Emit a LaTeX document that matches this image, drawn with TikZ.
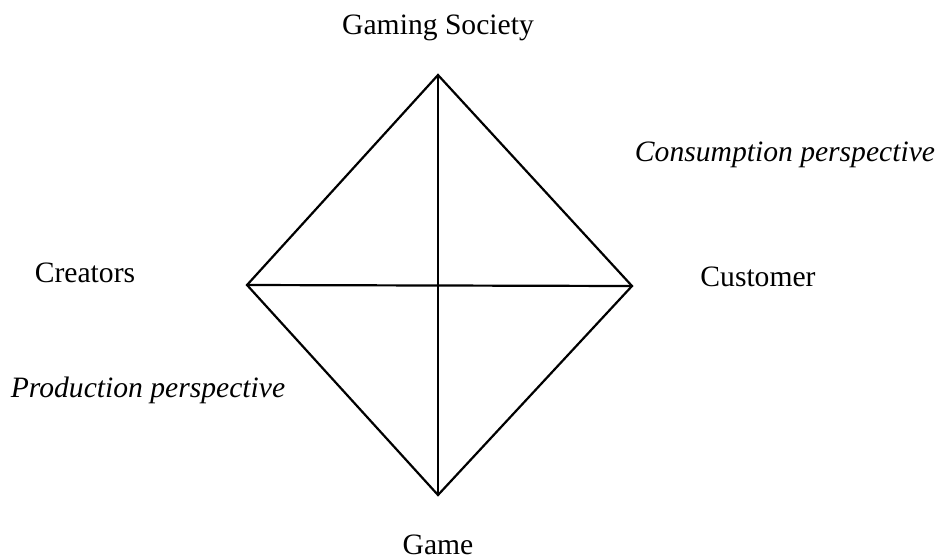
\documentclass[tikz,border=0pt]{standalone}
\usepackage{fontspec}
\setmainfont{Liberation Serif}
\begin{document}
\begin{tikzpicture}[x=0.5pt,y=-0.5pt,
  lbl/.style={font=\fontsize{14.8}{17}\selectfont, inner sep=0pt},
  edge/.style={line width=1.1pt, line join=miter}]
\useasboundingbox (0,0) rectangle (936,559);
\coordinate (T) at (438,75);
\coordinate (L) at (247,285);
\coordinate (R) at (632,286);
\coordinate (B) at (438,495);
\draw[edge] (T) -- (R) -- (B) -- (L) -- cycle;
\draw[edge] (T) -- (B);
\draw[edge] (L) -- (R);
\node[lbl] (gs) at (438,28) {Gaming Society};
\node[lbl] (cp) at (785,155) {\itshape Consumption perspective};
\node[lbl] (cr) at (85,273) {Creators};
\node[lbl] (cu) at (758,277) {Customer};
\node[lbl] (pp) at (148,390) {\itshape Production perspective};
\node[lbl] (gm) at (438,545) {Game};
\end{tikzpicture}
\end{document}
